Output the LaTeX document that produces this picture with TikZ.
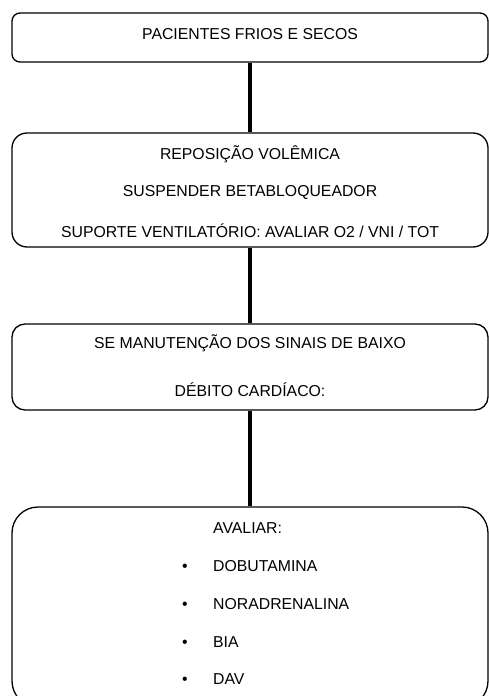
\documentclass[tikz,border=0pt]{standalone}
\usepackage{fontspec}
\setmainfont{Liberation Sans}
\begin{document}
\begin{tikzpicture}[x=1pt,y=-1pt,
  box/.style={draw=black,line width=1.3pt,minimum width=476pt,inner sep=0pt},
  txt/.style={font=\fontsize{15.8}{18}\selectfont,inner sep=0pt},
  lt/.style={txt,anchor=west},
  link/.style={line width=4pt}]
\useasboundingbox (0,0) rectangle (489,696);
\begin{scope}
\clip (0,0) rectangle (489,696);
\node[box,rounded corners=8pt,minimum height=49pt] (b1) at (250,37.5) {};
\node[box,rounded corners=15pt,minimum height=114pt] (b2) at (250,190) {};
\node[box,rounded corners=13pt,minimum height=86pt] (b3) at (250,367) {};
\node[box,rounded corners=26pt,minimum height=200pt] (b4) at (250,607) {};
\end{scope}
\draw[link] (b1.south) -- (b2.north);
\draw[link] (b2.south) -- (b3.north);
\draw[link] (b3.south) -- (b4.north);
\node[txt] (t1) at (250,34) {PACIENTES FRIOS E SECOS};
\node[txt] (t2) at (250,154) {REPOSIÇÃO VOLÊMICA};
\node[txt] (t3) at (250,192) {SUSPENDER BETABLOQUEADOR};
\node[txt] (t4) at (250,231) {SUPORTE VENTILATÓRIO: AVALIAR O2 / VNI / TOT};
\node[txt] (t5) at (250,343) {SE MANUTENÇÃO DOS SINAIS DE BAIXO};
\node[txt] (t6) at (250,390) {DÉBITO CARDÍACO:};
\node[lt] (t7) at (213,528) {AVALIAR:};
\node[lt] (t8) at (213,566) {DOBUTAMINA};
\node[lt] (t9) at (213,604) {NORADRENALINA};
\node[lt] (t10) at (213,642) {BIA};
\node[lt] (t11) at (213,679) {DAV};
\foreach \tn/\nm in {t8/p1,t9/p2,t10/p3,t11/p4}
  \node[txt,anchor=base] (\nm) at (185,0 |- \tn.base) {•};
\end{tikzpicture}
\end{document}
